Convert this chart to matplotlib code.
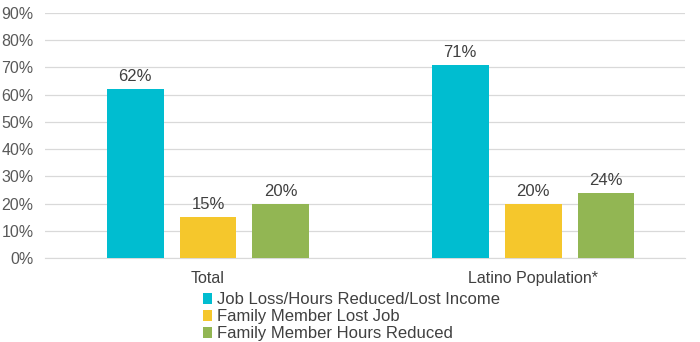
import matplotlib
matplotlib.use("Agg")
import matplotlib.pyplot as plt
import numpy as np
from matplotlib.patches import Patch

plt.rcParams['font.family'] = ['Liberation Sans', 'DejaVu Sans']

categories = ["Total", "Latino Population*"]
series_names = ["Job Loss/Hours Reduced/Lost Income", "Family Member Lost Job", "Family Member Hours Reduced"]
values = [
    [62, 71],
    [15, 20],
    [20, 24],
]
colors = ["#00BDD0", "#F5C72C", "#92B653"]
yticks = list(range(0, 100, 10))

fig = plt.figure(figsize=(7, 3.42), dpi=100)
ax = fig.add_axes([0.064, 0.2456, 0.915, 0.7164])

x = np.arange(len(categories))
w = 0.175
step = 0.224
for i, (name, vals, c) in enumerate(zip(series_names, values, colors)):
    pos = x + (i - 1) * step
    bars = ax.bar(pos, vals, width=w, color=c, label=name, zorder=3)
    for b, v in zip(bars, vals):
        ax.text(b.get_x() + b.get_width() / 2, v + 1.8, f"{v}%", ha='center', va='bottom',
                fontsize=12, color='#404040')

ax.set_ylim(0, 90)
ax.set_xlim(-0.502, 1.468)
ax.set_yticks(yticks)
ax.set_yticklabels([f"{t}%" for t in yticks], fontsize=11.5, color='#595959')
ax.set_xticks(x)
ax.set_xticklabels(categories, fontsize=11.5, color='#404040')
ax.tick_params(axis='y', length=0, pad=8)
ax.tick_params(axis='x', length=0, pad=9)
ax.yaxis.grid(True, color='#D9D9D9', linewidth=0.9, zorder=0)
for s in ['top', 'right', 'left']:
    ax.spines[s].set_visible(False)
ax.spines['bottom'].set_color('#D9D9D9')

handles = [Patch(facecolor=c, edgecolor='none') for c in colors]
fig.legend(handles, series_names, loc='upper left', bbox_to_anchor=(0.29, 0.145),
           frameon=False, fontsize=12, handlelength=0.55, handleheight=0.55,
           handletextpad=0.3, labelspacing=0.12, borderpad=0, borderaxespad=0,
           labelcolor='#404040')

fig.savefig("out.png", dpi=100)
